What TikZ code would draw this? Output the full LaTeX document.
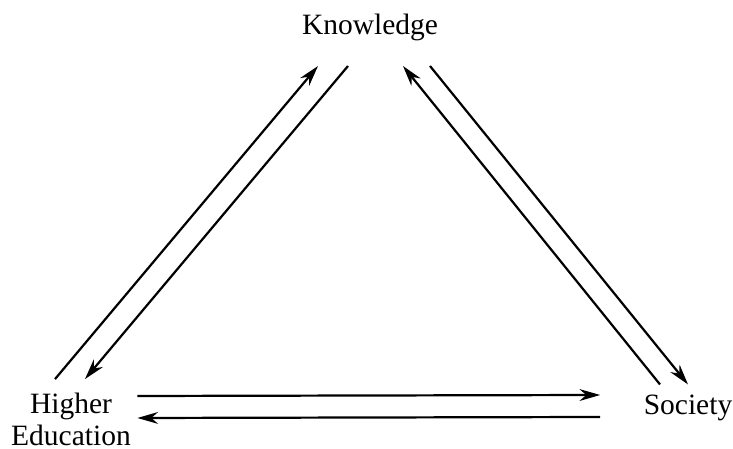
\documentclass[tikz,border=0pt]{standalone}
\usepackage{fontspec}
\setmainfont{Liberation Serif}
\usepackage{tikz}
\usetikzlibrary{arrows.meta}

\begin{document}
\begin{tikzpicture}[x=0.339pt,y=-0.339pt,>={Stealth[length=7pt,width=4pt]},
    every node/.style={inner sep=0pt,font=\fontsize{10}{10.8}\selectfont},
    flow/.style={->,line width=0.75pt}]
  \useasboundingbox (0,0) rectangle (733,449);

  \node (kn) at (370,27) {Knowledge};
  \node[align=center] (he) at (71,419) {Higher\\Education};
  \node (so) at (688,408) {Society};

  % left side
  \draw[flow] ([shift={(-16,-13)}]he.north) -- ([shift={(-52,25)}]kn.south);
  \draw[flow] ([shift={(-22,25)}]kn.south) -- ([shift={(14,-13)}]he.north);

  % right side
  \draw[flow] ([shift={(-28,-10)}]so.north) -- ([shift={(33,25)}]kn.south);
  \draw[flow] ([shift={(60,25)}]kn.south) -- ([shift={(0,-10)}]so.north);

  % bottom
  \draw[flow] ([shift={(6,-23)}]he.east) -- ([shift={(-43,-13)}]so.west);
  \draw[flow] ([shift={(-43,9)}]so.west) -- ([shift={(6,-1)}]he.east);
\end{tikzpicture}
\end{document}
